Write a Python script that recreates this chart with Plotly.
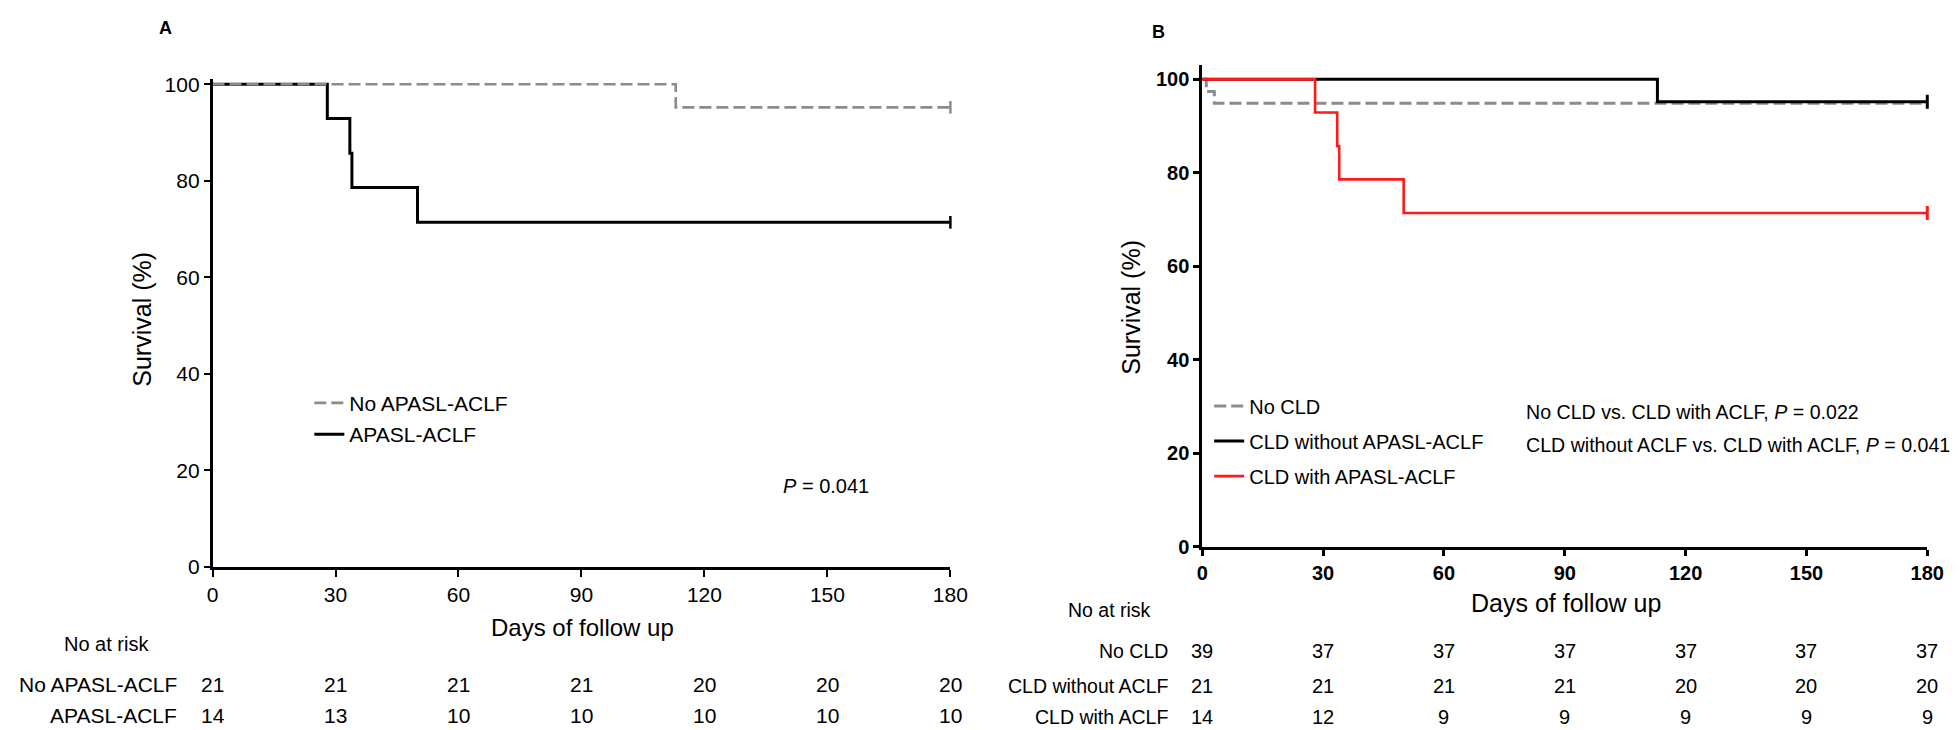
import plotly.graph_objects as go

# ---------------- data ----------------
# Panel A
a_no_aclf_days = [0, 113, 180]
a_no_aclf_surv = [100, 95.2, 95.2]
a_aclf_days = [0, 28, 33.5, 34, 50, 180]
a_aclf_surv = [100, 92.9, 85.7, 78.6, 71.4, 71.4]

# Panel B
b_no_cld_days = [0, 1, 3, 180]
b_no_cld_surv = [100, 97.4, 94.9, 94.9]
b_without_days = [0, 113, 180]
b_without_surv = [100, 95.2, 95.2]
b_with_days = [0, 28, 33.5, 34, 50, 180]
b_with_surv = [100, 92.9, 85.7, 78.6, 71.4, 71.4]

risk_days = [0, 30, 60, 90, 120, 150, 180]
a_risk_labels = ["No APASL-ACLF", "APASL-ACLF"]
a_risk_no_aclf = [21, 21, 21, 21, 20, 20, 20]
a_risk_aclf = [14, 13, 10, 10, 10, 10, 10]
b_risk_labels = ["No CLD", "CLD without ACLF", "CLD with ACLF"]
b_risk_no_cld = [39, 37, 37, 37, 37, 37, 37]
b_risk_without = [21, 21, 21, 21, 20, 20, 20]
b_risk_with = [14, 12, 9, 9, 9, 9, 9]

y_ticks = [0, 20, 40, 60, 80, 100]
x_ticks = [0, 30, 60, 90, 120, 150, 180]

# ---------------- layout helpers ----------------
W, H = 1960, 730
FONT = "Liberation Sans, Arial, sans-serif"
GRAY = "#8c8c8c"
RED = "#ff1a1a"


def px(x):
    return x / W


def py(y):
    return 1 - y / H


fig = go.Figure()

# ---- Panel A traces ----
fig.add_trace(go.Scatter(x=a_aclf_days, y=a_aclf_surv, mode="lines", line_shape="hv",
                         line=dict(color="black", width=3), name="APASL-ACLF",
                         legend="legend", legendrank=2, legendgroup="a2",
                         xaxis="x", yaxis="y"))
fig.add_trace(go.Scatter(x=a_no_aclf_days, y=a_no_aclf_surv, mode="lines", line_shape="hv",
                         line=dict(color=GRAY, width=2.6, dash="12px,5px"), name="No APASL-ACLF",
                         legend="legend", legendrank=1, legendgroup="a1",
                         xaxis="x", yaxis="y"))
# censor marks (end of follow-up)
fig.add_trace(go.Scatter(x=[a_aclf_days[-1]], y=[a_aclf_surv[-1]], mode="markers",
                         marker=dict(symbol="line-ns", size=9, line=dict(color="black", width=2.5)),
                         cliponaxis=False, showlegend=False, xaxis="x", yaxis="y"))
fig.add_trace(go.Scatter(x=[a_no_aclf_days[-1]], y=[a_no_aclf_surv[-1]], mode="markers",
                         marker=dict(symbol="line-ns", size=9, line=dict(color=GRAY, width=2.5)),
                         cliponaxis=False, showlegend=False, xaxis="x", yaxis="y"))

# ---- Panel B traces ----
fig.add_trace(go.Scatter(x=b_no_cld_days, y=b_no_cld_surv, mode="lines", line_shape="hv",
                         line=dict(color=GRAY, width=3, dash="12px,5px"), name="No CLD",
                         legend="legend2", legendgroup="b1", xaxis="x2", yaxis="y2"))
fig.add_trace(go.Scatter(x=b_without_days, y=b_without_surv, mode="lines", line_shape="hv",
                         line=dict(color="black", width=3), name="CLD without APASL-ACLF",
                         legend="legend2", legendgroup="b2", xaxis="x2", yaxis="y2"))
fig.add_trace(go.Scatter(x=b_with_days, y=b_with_surv, mode="lines", line_shape="hv",
                         line=dict(color=RED, width=2.6), name="CLD with APASL-ACLF",
                         legend="legend2", legendgroup="b3", xaxis="x2", yaxis="y2"))
fig.add_trace(go.Scatter(x=[b_without_days[-1]], y=[b_without_surv[-1]], mode="markers",
                         marker=dict(symbol="line-ns", size=10, line=dict(color="black", width=3)),
                         cliponaxis=False, showlegend=False, xaxis="x2", yaxis="y2"))
fig.add_trace(go.Scatter(x=[b_with_days[-1]], y=[b_with_surv[-1]], mode="markers",
                         marker=dict(symbol="line-ns", size=10, line=dict(color=RED, width=3)),
                         cliponaxis=False, showlegend=False, xaxis="x2", yaxis="y2"))

# ---------------- axes ----------------
axis_common = dict(showgrid=False, zeroline=False, showline=True, linecolor="black",
                   ticks="outside", tickcolor="black")

fig.update_layout(
    xaxis=dict(**axis_common, domain=[px(201), px(948)], range=[0, 180], tickvals=x_ticks,
               linewidth=3, ticklen=7, tickwidth=2, anchor="y",
               tickfont=dict(family=FONT, size=21, color="black")),
    yaxis=dict(**axis_common, domain=[py(566), py(66)], range=[0, 101], tickvals=y_ticks,
               linewidth=2.5, ticklen=6, tickwidth=2, anchor="x",
               tickfont=dict(family=FONT, size=21, color="black")),
    xaxis2=dict(**axis_common, domain=[px(1203), px(1937)], range=[0, 180], tickvals=x_ticks,
                linewidth=3, ticklen=6, tickwidth=2.5, anchor="y2",
                tickfont=dict(family=FONT, size=20, color="black", weight="bold")),
    yaxis2=dict(**axis_common, domain=[py(545), py(51.6)], range=[0, 103], tickvals=y_ticks,
                linewidth=3, ticklen=6, tickwidth=2.5, anchor="x2",
                tickfont=dict(family=FONT, size=20, color="black", weight="bold")),
)

# ---------------- legends ----------------
fig.update_layout(
    legend=dict(x=px(299), y=py(377), xanchor="left", yanchor="top",
                font=dict(family=FONT, size=21, color="black"),
                bgcolor="rgba(0,0,0,0)", tracegroupgap=1, itemwidth=30),
    legend2=dict(x=px(1210), y=py(381), xanchor="left", yanchor="top",
                 font=dict(family=FONT, size=20, color="black"),
                 bgcolor="rgba(0,0,0,0)", tracegroupgap=6, itemwidth=30),
)

# ---------------- annotations ----------------
ann = []


def text(x, y, s, size, xanchor="center", textangle=0, bold=False, xref="paper"):
    ann.append(dict(x=x, y=y, xref=xref, yref="paper", text=s, showarrow=False,
                    xanchor=xanchor, yanchor="middle", textangle=textangle,
                    font=dict(family=FONT, size=size, color="black",
                              weight="bold" if bold else "normal")))


# panel labels
text(px(153), py(13), "A", 18, bold=True)
text(px(1159), py(17), "B", 18, bold=True)

# axis titles
text(px(576), py(628), "Days of follow up", 24)
text(px(130), py(312), "Survival (%)", 25, textangle=-90)
text(px(1571), py(603), "Days of follow up", 25)
text(px(1130), py(300), "Survival (%)", 25, textangle=-90)

# p-values
text(px(777), py(483), "<i>P</i> = 0.041", 20, xanchor="left")
text(px(1529), py(407), "No CLD vs. CLD with ACLF, <i>P</i> = 0.022", 19.6, xanchor="left")
text(px(1529), py(441), "CLD without ACLF vs. CLD with ACLF, <i>P</i> = 0.041", 19.6, xanchor="left")

# risk table A
text(px(49), py(645), "No at risk", 20, xanchor="left")
a_rows_y = [686, 718]
for lab, row, yy in zip(a_risk_labels, [a_risk_no_aclf, a_risk_aclf], a_rows_y):
    text(px(167), py(yy), lab, 21, xanchor="right")
    for d, n in zip(risk_days, row):
        text(d, py(yy), str(n), 21, xref="x")

# risk table B
text(px(1065), py(610), "No at risk", 19.5, xanchor="left")
b_rows_y = [652, 688, 720]
for lab, row, yy in zip(b_risk_labels, [b_risk_no_cld, b_risk_without, b_risk_with], b_rows_y):
    text(px(1170), py(yy), lab, 19.5, xanchor="right")
    for d, n in zip(risk_days, row):
        text(d, py(yy), str(n), 20, xref="x2")

fig.update_layout(
    annotations=ann,
    width=W, height=H,
    margin=dict(l=0, r=0, t=0, b=0),
    paper_bgcolor="white", plot_bgcolor="white",
    font=dict(family=FONT, color="black"),
)

fig.write_html("out.html")
